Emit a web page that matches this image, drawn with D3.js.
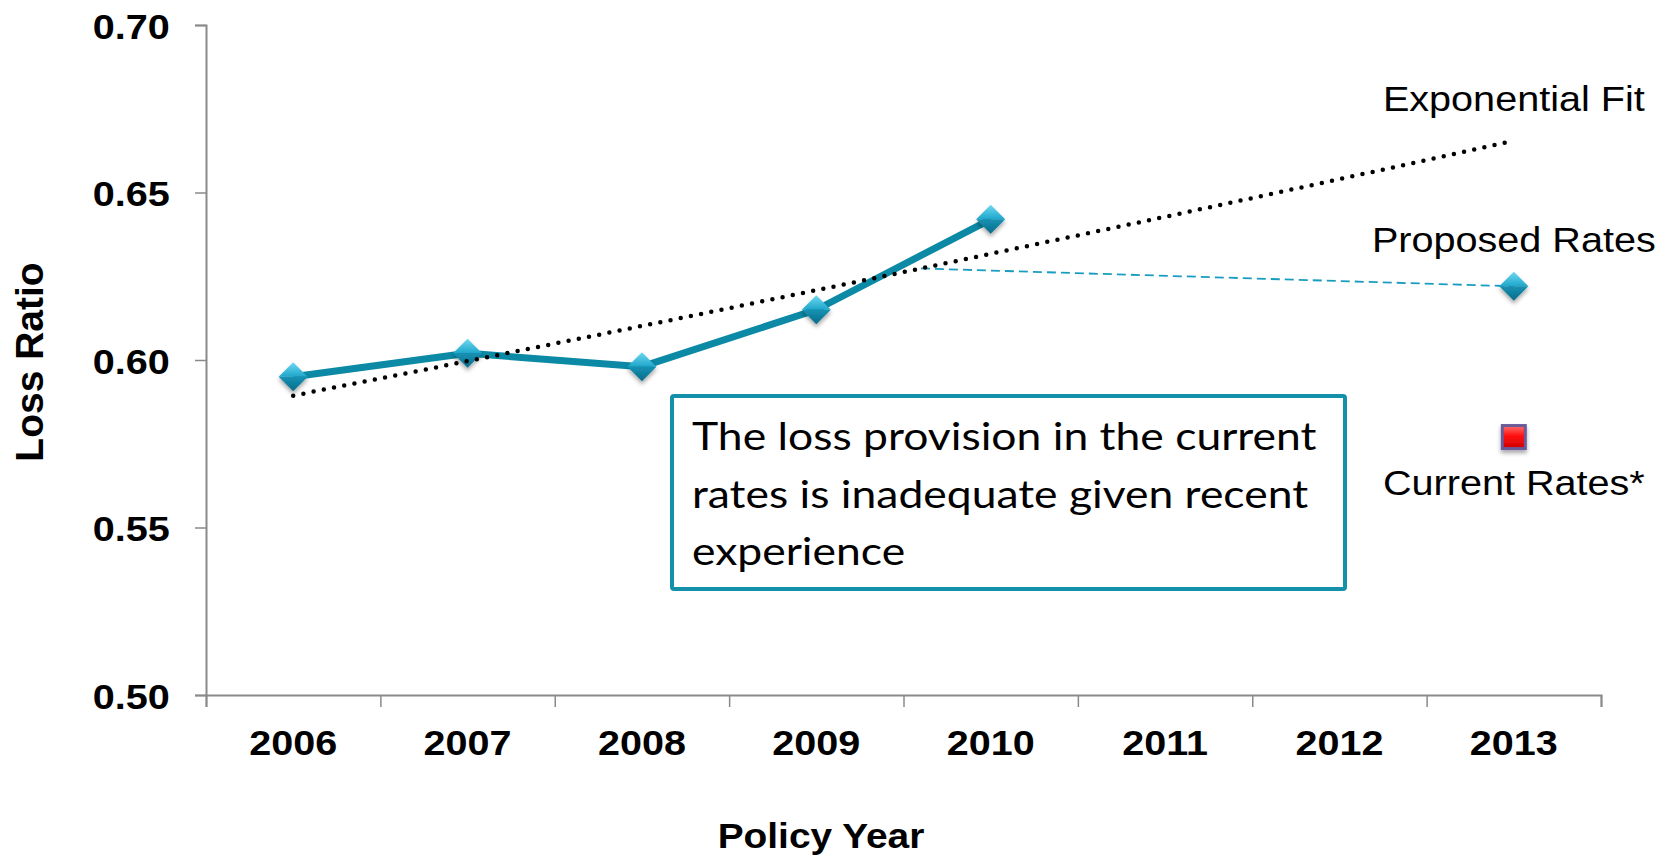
<!DOCTYPE html>
<html>
<head>
<meta charset="utf-8">
<script src="https://cdn.jsdelivr.net/npm/d3@7"></script>
<style>
  html, body { margin: 0; padding: 0; background: #fff; }
  svg { display: block; }
</style>
</head>
<body>
<svg id="chart" width="1671" height="860"></svg>
<script>
// ---- data: loss ratio by policy year ----
const years = [2006, 2007, 2008, 2009, 2010, 2011, 2012, 2013];
const experienceYears = [2006, 2007, 2008, 2009, 2010];
const experienceRatios = [0.595, 0.602, 0.598, 0.615, 0.642];
const proposedYear = 2013;
const proposedRatio = 0.622;
const currentYear = 2013;
const currentRatio = 0.577;
const projectionFromYear = 2009.6;   // where the projection leaves the trend line
const yTicks = [0.50, 0.55, 0.60, 0.65, 0.70];
const noteLines = [
  "The loss provision in the current",
  "rates is inadequate given recent",
  "experience"
];

// ---- layout ----
const W = 1671, H = 860;
const plot = { left: 206, right: 1601, top: 25, bottom: 695 };
const teal = "#0b89a5";
const axisGrey = "#8a8a8a";
const sansBold = "'Liberation Sans', Arial, sans-serif";

const svg = d3.select("#chart");

// ---- scales ----
const x = d3.scaleBand().domain(years).range([plot.left, plot.right]).padding(0);
const xc = d => x(d) + x.bandwidth() / 2;
const xYear = d3.scaleLinear().domain([years[0], years[years.length - 1]])
  .range([xc(years[0]), xc(years[years.length - 1])]);
const xEdge = d3.scaleLinear().domain([0, years.length]).range([plot.left, plot.right]);
const y = d3.scaleLinear().domain([0.5, 0.7]).range([plot.bottom, plot.top]);

// ---- exponential trend (least squares on log values) ----
const t0 = experienceYears[0];
const lx = experienceYears.map(v => v - t0);
const ly = experienceRatios.map(v => Math.log(v));
const mx = d3.mean(lx), my = d3.mean(ly);
const slope = d3.sum(lx, (v, i) => (v - mx) * (ly[i] - my)) / d3.sum(lx, v => (v - mx) * (v - mx));
const intercept = my - slope * mx;
const trend = yr => Math.exp(intercept + slope * (yr - t0));
const trendYears = d3.range(years[0], years[years.length - 1] + 0.001, 0.25);

// ---- defs: gradients and shadows ----
const defs = svg.append("defs");
const shadow = defs.append("filter").attr("id", "shadow")
  .attr("x", "-50%").attr("y", "-50%").attr("width", "200%").attr("height", "200%");
shadow.append("feDropShadow").attr("dx", 0).attr("dy", 3).attr("stdDeviation", 2)
  .attr("flood-color", "#000").attr("flood-opacity", 0.35);

function vGrad(id, stops) {
  const g = defs.append("linearGradient").attr("id", id)
    .attr("x1", 0).attr("y1", 0).attr("x2", 0).attr("y2", 1);
  stops.forEach(([o, c]) => g.append("stop").attr("offset", o).attr("stop-color", c));
}
vGrad("diaTop", [[0, "#6fd8f2"], [1, "#1ea6ca"]]);
vGrad("diaBottom", [[0, "#1592b4"], [1, "#0a6c88"]]);
vGrad("redFill", [[0, "#ff7070"], [0.45, "#ff1010"], [1, "#d00000"]]);

// ---- axes ----
const yAxis = svg.append("g").attr("transform", `translate(${plot.left},0)`)
  .call(d3.axisLeft(y).tickValues(yTicks).tickFormat(d3.format(".2f"))
    .tickSize(11).tickPadding(22));
yAxis.select(".domain").attr("stroke", axisGrey).attr("stroke-width", 2);
yAxis.selectAll(".tick line").attr("stroke", axisGrey).attr("stroke-width", 1.5);
yAxis.selectAll(".tick text")
  .attr("font-family", sansBold).attr("font-size", 36).attr("font-weight", "bold")
  .attr("fill", "#000").attr("dy", "0.37em").attr("transform", "scale(1.1,1)");

const xTicks = svg.append("g").attr("transform", `translate(0,${plot.bottom})`)
  .call(d3.axisBottom(xEdge).tickValues(d3.range(years.length + 1)).tickFormat("")
    .tickSize(12).tickSizeOuter(12));
xTicks.select(".domain").attr("stroke", axisGrey).attr("stroke-width", 2);
xTicks.selectAll(".tick line").attr("stroke", axisGrey).attr("stroke-width", 1.5);

const xLabels = svg.append("g").attr("transform", `translate(0,${plot.bottom})`)
  .call(d3.axisBottom(x).tickSize(0).tickPadding(35).tickFormat(d3.format("d")));
xLabels.select(".domain").remove();
xLabels.selectAll(".tick text")
  .attr("font-family", sansBold).attr("font-size", 35).attr("font-weight", "bold")
  .attr("fill", "#000").attr("transform", "scale(1.13,1)");

// axis titles
svg.append("text")
  .attr("transform", "translate(821,848) scale(1.08,1)")
  .attr("text-anchor", "middle").attr("font-family", sansBold)
  .attr("font-size", 36).attr("font-weight", "bold").text("Policy Year");
svg.append("text")
  .attr("transform", "translate(43,362) rotate(-90)")
  .attr("text-anchor", "middle").attr("font-family", sansBold)
  .attr("font-size", 39).attr("font-weight", "bold").text("Loss Ratio");

// ---- projection to proposed rates (thin dashed) ----
svg.append("path")
  .datum([[projectionFromYear, trend(projectionFromYear)], [proposedYear, proposedRatio]])
  .attr("d", d3.line().x(d => xYear(d[0])).y(d => y(d[1])))
  .attr("fill", "none").attr("stroke", "#1a9cc0").attr("stroke-width", 1.8)
  .attr("stroke-dasharray", "9,5");

// ---- experience line ----
const exp = experienceYears.map((yr, i) => ({ year: yr, value: experienceRatios[i] }));
svg.append("path").datum(exp)
  .attr("d", d3.line().x(d => xc(d.year)).y(d => y(d.value)))
  .attr("fill", "none").attr("stroke", teal).attr("stroke-width", 7)
  .attr("stroke-linejoin", "round");

// ---- markers ----
function diamond(g) {
  const r = 14.5;
  g.attr("filter", "url(#shadow)");
  g.append("polygon").attr("points", `0,${-r} ${r},0 ${-r},0`).attr("fill", "url(#diaTop)");
  g.append("polygon").attr("points", `${-r},0 ${r},0 0,${r}`).attr("fill", "url(#diaBottom)");
}
const markerPts = exp.concat([{ year: proposedYear, value: proposedRatio }]);
svg.append("g").selectAll("g").data(markerPts).join("g")
  .attr("transform", d => `translate(${xc(d.year)},${y(d.value)})`)
  .each(function () { diamond(d3.select(this)); });

svg.append("g")
  .attr("transform", `translate(${xc(currentYear)},${y(currentRatio)})`)
  .attr("filter", "url(#shadow)")
  .append("rect").attr("x", -11.5).attr("y", -11.5).attr("width", 23).attr("height", 23)
  .attr("fill", "url(#redFill)").attr("stroke", "#6a5a98").attr("stroke-width", 3);

// ---- exponential trend line (dotted) ----
svg.append("path").datum(trendYears)
  .attr("d", d3.line().x(d => xYear(d)).y(d => y(trend(d))))
  .attr("fill", "none").attr("stroke", "#000").attr("stroke-width", 4.5)
  .attr("stroke-linecap", "round").attr("stroke-dasharray", "0,10.4");

// ---- series labels ----
const lastYear = years[years.length - 1];
const seriesLabels = [
  { text: "Exponential Fit", at: trend(lastYear), dy: -30 },
  { text: "Proposed Rates", at: proposedRatio, dy: -34 },
  { text: "Current Rates*", at: currentRatio, dy: 58 }
];
svg.append("g").selectAll("text").data(seriesLabels).join("text")
  .attr("transform", d => `translate(${xc(lastYear)},${y(d.at) + d.dy}) scale(1.1,1)`)
  .attr("text-anchor", "middle").attr("font-family", "'Liberation Sans', Arial, sans-serif")
  .attr("font-size", 36).attr("fill", "#000").text(d => d.text);

// ---- note box ----
const note = svg.append("g");
note.append("rect").attr("x", 672).attr("y", 396).attr("width", 673).attr("height", 193)
  .attr("rx", 2).attr("fill", "#fff").attr("stroke", "#1490aa").attr("stroke-width", 4);
note.selectAll("text").data(noteLines).join("text")
  .attr("transform", (d, i) => `translate(692,${450 + i * 57.5}) scale(1.17,1)`)
  .attr("font-family", "Lato, 'Open Sans', sans-serif").attr("font-size", 38)
  .attr("fill", "#000").text(d => d);
</script>
</body>
</html>
